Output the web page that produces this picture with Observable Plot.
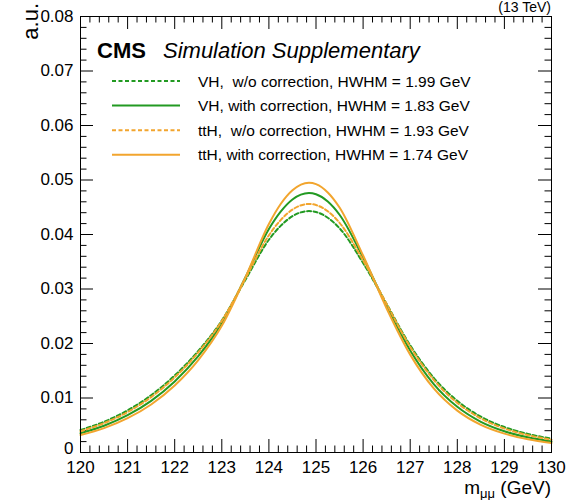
<!DOCTYPE html>
<html>
<head>
<meta charset="utf-8">
<script src="https://cdn.jsdelivr.net/npm/d3@7"></script>
<script src="https://cdn.jsdelivr.net/npm/@observablehq/plot@0.6"></script>
<style>
  html, body { margin: 0; padding: 0; background: white; }
  #wrap { position: relative; width: 568px; height: 500px; overflow: hidden; font-family: "Liberation Sans", Arial, sans-serif; }
  #wrap > svg.overlay { position: absolute; left: 0; top: 0; pointer-events: none; }
</style>
</head>
<body>
<div id="wrap"></div>
<script>
// ---- data ----
const mass = [120, 120.5, 121, 121.5, 122, 122.5, 123, 123.5, 124, 124.25, 124.5, 124.85, 125, 125.25, 125.5, 126, 126.5, 127, 127.5, 128, 128.5, 129, 129.5, 130];
const vhNoCorr  = [0.00412,0.00564,0.00773,0.01051,0.01413,0.01863,0.02422,0.03166,0.03904,0.04159,0.04336,0.0443,0.04413,0.04308,0.04114,0.03477,0.02724,0.01966,0.01370,0.00947,0.00657,0.00467,0.00341,0.00254];
const vhCorr    = [0.00354,0.00491,0.00684,0.00947,0.01303,0.01767,0.02374,0.03211,0.04099,0.04418,0.04641,0.0476,0.04738,0.04605,0.04362,0.03578,0.02691,0.01872,0.01255,0.00838,0.00563,0.00390,0.00278,0.00203];
const tthNoCorr = [0.00391,0.00538,0.00742,0.01016,0.01378,0.01835,0.02414,0.03194,0.03986,0.04265,0.04457,0.0456,0.04541,0.04426,0.04215,0.03525,0.02723,0.01939,0.01333,0.00910,0.00625,0.00439,0.00318,0.00235];
const tthCorr   = [0.00321,0.00447,0.00629,0.00881,0.01229,0.01695,0.02324,0.03210,0.04193,0.04559,0.04811,0.0495,0.04925,0.04772,0.04495,0.03614,0.02643,0.01796,0.01176,0.00768,0.00507,0.00346,0.00244,0.00176];

const seriesNames = ["VH,  w/o correction, HWHM = 1.99 GeV", "VH, with correction, HWHM = 1.83 GeV", "ttH,  w/o correction, HWHM = 1.93 GeV", "ttH, with correction, HWHM = 1.74 GeV"];
const seriesColors = ["#229a22", "#229a22", "#f2a52e", "#f2a52e"];
const seriesDash = ["4,2.5", null, "4,2.5", null];

const xTicks = [120, 121, 122, 123, 124, 125, 126, 127, 128, 129, 130];
const xTickLabels = ["120", "121", "122", "123", "124", "125", "126", "127", "128", "129", "130"];
const xMinorTicks = [120.2,120.4,120.6,120.8,121.2,121.4,121.6,121.8,122.2,122.4,122.6,122.8,123.2,123.4,123.6,123.8,124.2,124.4,124.6,124.8,125.2,125.4,125.6,125.8,126.2,126.4,126.6,126.8,127.2,127.4,127.6,127.8,128.2,128.4,128.6,128.8,129.2,129.4,129.6,129.8];
const yTicks = [0, 0.01, 0.02, 0.03, 0.04, 0.05, 0.06, 0.07, 0.08];
const yTickLabels = ["0", "0.01", "0.02", "0.03", "0.04", "0.05", "0.06", "0.07", "0.08"];
const yMinorTicks = [0.002,0.004,0.006,0.008,0.012,0.014,0.016,0.018,0.022,0.024,0.026,0.028,0.032,0.034,0.036,0.038,0.042,0.044,0.046,0.048,0.052,0.054,0.056,0.058,0.062,0.064,0.066,0.068,0.072,0.074,0.076,0.078];

// ---- layout ----
const W = 568, H = 500;
const mL = 80, mR = 17, mT = 16, mB = 48;
const fw = W - mL - mR, fh = H - mT - mB;
const majorLen = 13, minorLen = 6.5;

const allSeries = [vhNoCorr, vhCorr, tthNoCorr, tthCorr];
const lineMarks = allSeries.map((vals, k) =>
  Plot.line(mass.map((m, i) => ({m, v: vals[i]})), {
    x: "m", y: "v", stroke: seriesColors[k], strokeWidth: 2,
    strokeDasharray: seriesDash[k] || undefined, curve: "monotone-x"
  })
);

const yFmt = d => yTickLabels[yTicks.indexOf(d)];

const chart = Plot.plot({
  width: W, height: H,
  marginLeft: mL, marginRight: mR, marginTop: mT, marginBottom: mB,
  style: {fontFamily: "'Liberation Sans', Arial, sans-serif", fontSize: "17px", color: "black", background: "white", overflow: "visible"},
  x: {domain: [120, 130], label: null},
  y: {domain: [0, 0.08], label: null},
  marks: [
    // inward ticks (bottom / top / left / right)
    Plot.tickX(xTicks, {x: d => d, insetTop: fh - majorLen, stroke: "black"}),
    Plot.tickX(xMinorTicks, {x: d => d, insetTop: fh - minorLen, stroke: "black"}),
    Plot.tickX(xTicks, {x: d => d, insetBottom: fh - majorLen, stroke: "black"}),
    Plot.tickX(xMinorTicks, {x: d => d, insetBottom: fh - minorLen, stroke: "black"}),
    Plot.tickY(yTicks, {y: d => d, insetRight: fw - majorLen, stroke: "black"}),
    Plot.tickY(yMinorTicks, {y: d => d, insetRight: fw - minorLen, stroke: "black"}),
    Plot.tickY(yTicks, {y: d => d, insetLeft: fw - majorLen, stroke: "black"}),
    Plot.tickY(yMinorTicks, {y: d => d, insetLeft: fw - minorLen, stroke: "black"}),
    Plot.axisX({ticks: xTicks, tickSize: 0, tickPadding: 8, fontSize: 17, label: null,
      tickFormat: d => xTickLabels[xTicks.indexOf(d)]}),
    Plot.axisY({ticks: yTicks.slice(1), tickSize: 0, tickPadding: 7, fontSize: 17, label: null, tickFormat: yFmt}),
    Plot.axisY({ticks: yTicks.slice(0, 1), tickSize: 0, tickPadding: 7, fontSize: 17, label: null, tickFormat: yFmt, dy: -4}),
    ...lineMarks,
    Plot.frame({stroke: "black", strokeWidth: 1})
  ]
});

const wrap = document.getElementById("wrap");
wrap.appendChild(chart);

// ---- overlay texts and legend ----
const NS = "http://www.w3.org/2000/svg";
const ov = document.createElementNS(NS, "svg");
ov.setAttribute("class", "overlay");
ov.setAttribute("width", W); ov.setAttribute("height", H);
ov.setAttribute("font-family", "'Liberation Sans', Arial, sans-serif");
function addText(txt, attrs) {
  const t = document.createElementNS(NS, "text");
  for (const k in attrs) t.setAttribute(k, attrs[k]);
  t.textContent = txt;
  ov.appendChild(t);
  return t;
}
addText("(13 TeV)", {x: 551, y: 12, "text-anchor": "end", "font-size": 14});
addText("a.u.", {transform: "translate(38,3) rotate(-90)", "text-anchor": "end", "font-size": 22});
addText("CMS", {x: 97, y: 58, "font-weight": "bold", "font-size": 22});
addText("Simulation Supplementary", {x: 163, y: 58, "font-style": "italic", "font-size": 22});

const xl = addText("m", {x: 551, y: 494, "text-anchor": "end", "font-size": 19});
const sub = document.createElementNS(NS, "tspan");
sub.setAttribute("font-size", 13); sub.setAttribute("dy", 4); sub.textContent = "μμ";
const rest = document.createElementNS(NS, "tspan");
rest.setAttribute("dy", -4); rest.textContent = " (GeV)";
xl.appendChild(sub); xl.appendChild(rest);

seriesNames.forEach((name, k) => {
  const cy = 81 + k * 24.6;
  const ln = document.createElementNS(NS, "line");
  ln.setAttribute("x1", 112); ln.setAttribute("x2", 180);
  ln.setAttribute("y1", cy); ln.setAttribute("y2", cy);
  ln.setAttribute("stroke", seriesColors[k]); ln.setAttribute("stroke-width", 2);
  if (seriesDash[k]) ln.setAttribute("stroke-dasharray", seriesDash[k]);
  ov.appendChild(ln);
  addText(name, {x: 198, y: cy + 5.5, "font-size": 15.5, "xml:space": "preserve", style: "white-space: pre"});
});
wrap.appendChild(ov);
</script>
</body>
</html>
